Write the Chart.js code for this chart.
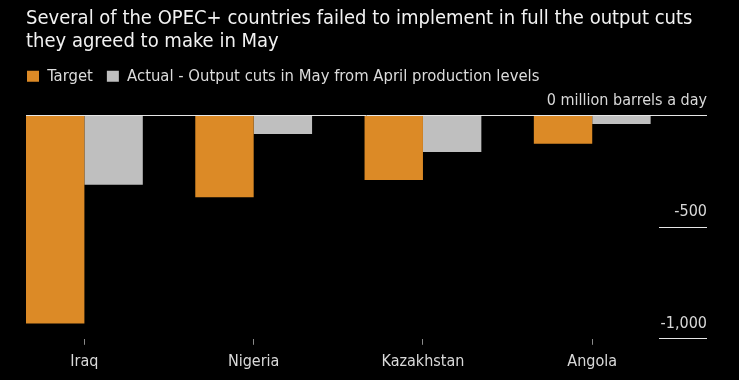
<!DOCTYPE html>
<html><head><meta charset="utf-8">
<script src="https://cdn.jsdelivr.net/npm/chart.js@4/dist/chart.umd.min.js"></script>
<style>html,body{margin:0;padding:0;background:#000;} canvas{display:block;background:#000;}</style>
</head><body>
<canvas id="c" width="739" height="380"></canvas>
<script>
const countries = ['Iraq', 'Nigeria', 'Kazakhstan', 'Angola'];
const targetCuts = [-932, -366, -289, -126];
const actualCuts = [-310, -83, -164, -38];
const seriesNames = ['Target', 'Actual - Output cuts in May from April production levels'];
const yTickValues = [0, -500, -1000];
const unitLabel = 'million barrels a day';
const titleLines = ['Several of the OPEC+ countries failed to implement in full the output cuts', 'they agreed to make in May'];

const FONT = "'DejaVu Sans Condensed','DejaVu Sans',sans-serif";
const ORANGE = '#dc8a26';
const GREY = '#bfbfbf';

// Adds space under the legend and aligns its first swatch with the title's left edge
const legendLayout = {
  id: 'legendLayout',
  beforeUpdate(chart, args, opts) {
    const lg = chart.legend;
    if (lg && !lg._gapPatched) {
      const fit = lg.fit;
      lg.fit = function () { fit.call(this); this.height += opts.gap; };
      lg._gapPatched = true;
    }
  },
  afterLayout(chart, args, opts) {
    const lg = chart.legend;
    if (lg) {
      const shift = lg.options.labels.padding - opts.indent;
      lg.left -= shift; lg.right -= shift;
    }
  }
};

new Chart(document.getElementById('c'), {
  type: 'bar',
  data: {
    labels: countries,
    datasets: [
      { label: seriesNames[0], data: targetCuts.map((v, i) => ({ x: i, y: v })), backgroundColor: ORANGE },
      { label: seriesNames[1], data: actualCuts.map((v, i) => ({ x: i, y: v })), backgroundColor: GREY }
    ]
  },
  plugins: [legendLayout],
  options: {
    responsive: false,
    animation: false,
    categoryPercentage: 0.69,
    barPercentage: 1.0,
    layout: { padding: { left: 26, right: 32, top: 0, bottom: 2 } },
    plugins: {
      legendLayout: { gap: 21, indent: 1 },
      title: {
        display: true, text: titleLines, align: 'start', color: '#f2f2f2',
        font: { family: FONT, size: 20, weight: 'normal', lineHeight: 1.15 },
        padding: { top: 7, bottom: 1 }
      },
      legend: {
        display: true, align: 'start',
        labels: {
          color: '#dcdcdc', font: { family: FONT, size: 16.5 },
          boxWidth: 12, boxHeight: 11, padding: 14
        }
      },
      tooltip: { enabled: false }
    },
    scales: {
      x: {
        type: 'linear', min: -0.345, max: 3.678, offset: false,
        afterBuildTicks: s => { s.ticks = countries.map((c, i) => ({ value: i })); },
        border: { display: false },
        grid: { drawOnChartArea: false, drawTicks: true, tickLength: 6, tickColor: '#8a8a8a', offset: false },
        ticks: {
          color: '#d9d9d9', font: { family: FONT, size: 16 }, padding: 7, maxRotation: 0, autoSkip: false,
          callback: v => countries[v] ?? ''
        }
      },
      y: {
        position: 'right', min: -1000, max: 0,
        afterBuildTicks: s => { s.ticks = yTickValues.map(v => ({ value: v })); },
        afterFit: s => { s.width = 0; },
        border: { display: false },
        grid: {
          color: c => (c.tick && c.tick.value === 0) ? '#e6e6e6' : 'rgba(0,0,0,0)',
          tickColor: '#e6e6e6', drawTicks: true, tickLength: -48, lineWidth: 1
        },
        ticks: {
          mirror: true, padding: 0, crossAlign: 'near', labelOffset: -15,
          color: '#d9d9d9', font: { family: FONT, size: 16 },
          callback: v => v === 0 ? '0 ' + unitLabel : v.toLocaleString('en-US')
        }
      }
    }
  }
});
</script>
</body></html>
